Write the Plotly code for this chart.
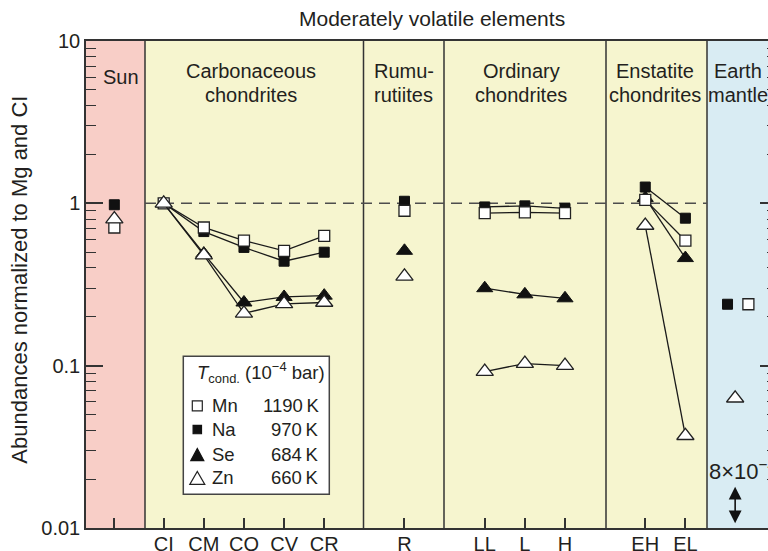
import math
import plotly.graph_objects as go

# ---------------- data ----------------
groups = ["Sun", "CI", "CM", "CO", "CV", "CR", "R", "LL", "L", "H", "EH", "EL", "Earth"]
tick_labels = ["", "CI", "CM", "CO", "CV", "CR", "R", "LL", "L", "H", "EH", "EL"]
mn = [0.71, 1.0, 0.71, 0.59, 0.51, 0.63, 0.90, 0.87, 0.88, 0.87, 1.05, 0.59, 0.239]
na = [0.98, 1.0, 0.67, 0.535, 0.44, 0.50, 1.03, 0.95, 0.965, 0.93, 1.26, 0.81, 0.239]
se = [None, 1.0, 0.49, 0.245, 0.265, 0.27, 0.51, 0.30, 0.275, 0.26, 1.08, 0.46, 8e-4]
zn = [0.80, 1.0, 0.48, 0.21, 0.24, 0.245, 0.355, 0.092, 0.103, 0.10, 0.73, 0.037, 0.063]
elements = ["Mn", "Na", "Se", "Zn"]
t_cond = ["1190", "970", "684", "660"]
panel_names = [["Sun"], ["Carbonaceous", "chondrites"], ["Rumu-", "rutiites"],
               ["Ordinary", "chondrites"], ["Enstatite", "chondrites"], ["Earth", "mantle"]]
panel_members = [["Sun"], ["CI", "CM", "CO", "CV", "CR"], ["R"], ["LL", "L", "H"], ["EH", "EL"], ["Earth"]]

# ---------------- layout geometry ----------------
W, H = 777, 551
ML, MT = 86, 41
AX_BOTTOM = 527.7
MB = H - AX_BOTTOM
PW, PH = W - ML, AX_BOTTOM - MT
X0PX, XSCALE = 163.7, 40.13          # pixel of CI, pixels per unit


def u_of_px(px):
    return 1 + (px - X0PX) / XSCALE


XMIN, XMAX = u_of_px(ML), u_of_px(W)
pos = {"Sun": -0.23, "CI": 1, "CM": 2, "CO": 3, "CV": 4, "CR": 5, "R": 7,
       "LL": 9, "L": 10, "H": 11, "EH": 13, "EL": 14}
earth_pos = {"Mn": 15.57, "Na": 15.05, "Se": 15.24, "Zn": 15.24}
bounds = [XMIN, u_of_px(145), u_of_px(363.5), u_of_px(444), u_of_px(606), u_of_px(707), XMAX]
panel_colors = ["#f8cec7", "#f6f5cf", "#f6f5cf", "#f6f5cf", "#f6f5cf", "#d9ecf3"]


def px2x(px):
    return (px - ML) / PW


def py2y(py):
    return (AX_BOTTOM - py) / PH


def v2y(v):
    return (math.log10(v) + 2) / 3


FONT = "Liberation Sans, Arial, Helvetica, sans-serif"
TXT = "#231f20"
AXC = "#333333"

styles = {
    "Mn": dict(symbol="square", size=11, color="white", line=dict(color="#222", width=1.3)),
    "Na": dict(symbol="square", size=10, color="#111", line=dict(color="#111", width=1)),
    "Se": dict(symbol="triangle-up", size=14, color="#111", line=dict(color="#111", width=1)),
    "Zn": dict(symbol="triangle-up", size=15, color="white", line=dict(color="#222", width=1.3)),
}
values = {"Mn": mn, "Na": na, "Se": se, "Zn": zn}

fig = go.Figure()
for el in ["Na", "Se", "Mn", "Zn"]:
    vals = dict(zip(groups, values[el]))
    xs, ys = [], []
    for members in panel_members:
        for g in members:
            v = vals[g]
            if v is None:
                continue
            xs.append(earth_pos[el] if g == "Earth" else pos[g])
            ys.append(v)
        xs.append(None)
        ys.append(None)
    fig.add_trace(go.Scatter(x=xs, y=ys, mode="lines+markers", name=el, showlegend=False,
                             line=dict(color="#1a1a1a", width=1.3), marker=styles[el]))

shapes = []
for i, col in enumerate(panel_colors):
    shapes.append(dict(type="rect", xref="x", yref="paper", x0=bounds[i], x1=bounds[i + 1],
                       y0=0, y1=1, fillcolor=col, line=dict(width=0), layer="below"))
for b in bounds[1:-1]:
    shapes.append(dict(type="line", xref="x", yref="paper", x0=b, x1=b, y0=0, y1=1,
                       line=dict(color=AXC, width=1.5), layer="below"))
# reference line at 1
shapes.append(dict(type="line", xref="x", yref="paper", x0=bounds[1], x1=bounds[5],
                   y0=v2y(1), y1=v2y(1), line=dict(color="#4d4d4d", width=1.5, dash="11px,7px"),
                   layer="below"))
# legend box
shapes.append(dict(type="rect", xref="paper", yref="paper", x0=px2x(183.3), x1=px2x(329.3),
                   y0=py2y(494), y1=py2y(356), fillcolor="white", line=dict(color="#444", width=1.5)))

annotations = []


def ann(text, px, py, size=20, xanchor="center", yanchor="middle", **kw):
    annotations.append(dict(text=text, x=px2x(px), y=py2y(py), xref="paper", yref="paper",
                            xanchor=xanchor, yanchor=yanchor, showarrow=False,
                            font=dict(family=FONT, size=size, color=TXT), **kw))


ann("Moderately volatile elements", 431.5, 18.5, size=21)
ann("Abundances normalized to Mg and CI", 20, 279.5, size=22, textangle=-90)

label_x = [120.7, 251, 403.5, 521, 655, 737.5]
for names, lx in zip(panel_names, label_x):
    if len(names) == 1:
        ann(names[0], lx, 77)
    else:
        ann(names[0], lx, 71)
        ann(names[1], lx, 94.5)

# legend contents
ann("<i>T</i><sub>cond.</sub> (10<sup>−4</sup> bar)", 195, 372, size=18.5, xanchor="left")
row_y = [405.7, 429.3, 454.3, 477.7]
for el, tc, ry in zip(elements, t_cond, row_y):
    ann(el, 210, ry, size=18.5, xanchor="left")
    ann(tc + "\u2009K", 321, ry, size=18.5, xanchor="right")
    st = styles[el]
    if st["symbol"] == "square":
        h = 5 if el == "Mn" else 4.2
        shapes.append(dict(type="rect", xref="paper", yref="paper", xsizemode="pixel",
                           ysizemode="pixel", xanchor=px2x(197.3), yanchor=py2y(ry),
                           x0=-h, x1=h, y0=-h, y1=h, fillcolor=st["color"],
                           line=dict(color=st["line"]["color"], width=1.2)))
    else:
        hw = 6.5 if el == "Se" else 7.5
        hh = 6 if el == "Se" else 6.5
        shapes.append(dict(type="path", xref="paper", yref="paper", xsizemode="pixel",
                           ysizemode="pixel", xanchor=px2x(197.3), yanchor=py2y(ry),
                           path=f"M {-hw},{-hh} L {hw},{-hh} L 0,{hh} Z", fillcolor=st["color"],
                           line=dict(color=st["line"]["color"], width=1.2)))

# Earth mantle Se: off-scale value indicated by label and double arrow
exp = int(math.floor(math.log10(se[-1])))
mant = round(se[-1] / 10 ** exp)
ann(f"{mant}×10<sup>−{abs(exp)}</sup>", 707, 469.5, size=22, xanchor="left")
annotations.append(dict(x=earth_pos["Se"], y=py2y(523), xref="x", yref="paper",
                        ax=0, ay=-38, axref="pixel", ayref="pixel",
                        showarrow=True, arrowhead=2, startarrowhead=2, arrowside="end+start",
                        arrowsize=1.6, startarrowsize=1.6, arrowwidth=1.6, arrowcolor="#111", text=""))

minor_vals = [k * 10 ** e for e in (-2, -1, 0) for k in range(2, 10)]

fig.update_layout(
    width=W, height=H, autosize=False,
    margin=dict(l=ML, r=0, t=MT, b=MB, pad=0, autoexpand=False),
    paper_bgcolor="white", plot_bgcolor="white",
    font=dict(family=FONT, color=TXT, size=20),
    shapes=shapes, annotations=annotations, showlegend=False,
    xaxis=dict(range=[XMIN, XMAX], showgrid=False, zeroline=False, automargin=False,
               tickvals=[pos[g] for g in groups[:-1]], ticktext=tick_labels,
               ticks="inside", ticklen=10, tickwidth=1.5, tickcolor=AXC,
               showline=True, linecolor=AXC, linewidth=1.5, mirror=True,
               ticklabelstandoff=-3,
               tickfont=dict(size=20, color=TXT)),
    yaxis=dict(type="log", range=[-2, 1], showgrid=False, zeroline=False, automargin=False,
               tickvals=[0.01, 0.1, 1, 10], ticktext=["0.01", "0.1", "1", "10"],
               ticks="inside", ticklen=17, tickwidth=1.5, tickcolor=AXC,
               showline=True, linecolor=AXC, linewidth=1.5, mirror="ticks",
               minor=dict(tickvals=minor_vals, ticks="inside", ticklen=10, tickwidth=1.3,
                          tickcolor=AXC, showgrid=False),
               tickfont=dict(size=20, color=TXT)),
)

fig.write_html("out.html", post_script="document.documentElement.style.overflow='hidden';document.body.style.overflow='hidden';document.body.style.margin='0';")
